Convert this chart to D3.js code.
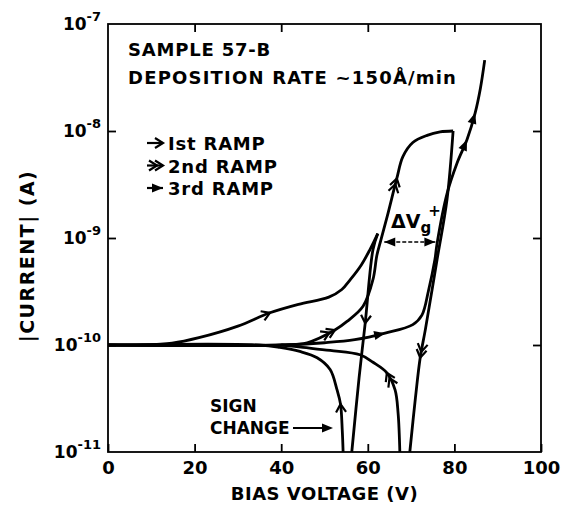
<!DOCTYPE html>
<html>
<head>
<meta charset="utf-8">
<script src="https://cdn.jsdelivr.net/npm/d3@7"></script>
<style>
  body { margin: 0; background: #fff; }
  text { font-family: "DejaVu Sans", sans-serif; font-weight: bold; fill: #000; }
</style>
</head>
<body>
<svg id="chart" width="563" height="505"></svg>
<script>
// axis ticks
const xTicks = [0, 20, 40, 60, 80, 100];
const yTicks = [1e-11, 1e-10, 1e-9, 1e-8, 1e-7];
const yExp = ["-11", "-10", "-9", "-8", "-7"];

// 1st ramp (single arrows): [bias V, |current| A]
const ramp1Up = [[0,1e-10],[8,1e-10],[14.8,1.04e-10],[21,1.17e-10],[30,1.5e-10],[37.4,2.0e-10],[44,2.4e-10],[51,2.8e-10],[54,3.3e-10],[56,4.1e-10],[58.5,5.6e-10],[60.5,7.8e-10],[62.3,1.1e-9]];
const ramp1Down = [[62.3,1.1e-9],[61.2,7.8e-10],[59.4,1.6e-10],[58,5e-11],[56.3,1e-11]];
const ramp1Back = [[54.3,1e-11],[54.1,1.6e-11],[53.7,2.8e-11],[52.9,3.8e-11],[51.3,5.9e-11],[48.3,7.6e-11],[44.3,8.7e-11],[39.7,9.5e-11],[35,1e-10],[0,1e-10]];

// 2nd ramp (double arrows)
const ramp2Up = [[0,1e-10],[40,1e-10],[46,1.05e-10],[52.4,1.38e-10],[55.2,1.66e-10],[58.9,2.3e-10],[61.2,4.1e-10],[62.1,6.9e-10],[63,9.5e-10],[64.5,1.6e-9],[66.7,3.6e-9],[68.1,5.75e-9],[70.4,7.8e-9],[73.7,9.1e-9],[76.7,9.8e-9],[79.7,1.0e-8]];
const ramp2Down = [[79.7,1.0e-8],[78.3,2.3e-9],[76,6.3e-10],[73.3,1.4e-10],[72.1,7.6e-11],[71,3.2e-11],[69.7,1e-11]];
const ramp2Back = [[67.4,1e-11],[67,2.3e-11],[66.3,3.8e-11],[64.4,5.5e-11],[61.2,6.9e-11],[58.2,8.1e-11],[51.3,8.9e-11],[45,9.5e-11],[40,1e-10]];

// 3rd ramp (filled arrows)
const ramp3Up = [[0,1e-10],[40,1e-10],[50,1.05e-10],[57,1.12e-10],[64,1.29e-10],[70.4,1.55e-10],[72.5,1.9e-10],[74,3.2e-10],[75.5,6.3e-10],[76,8.9e-10],[78.3,2.6e-9],[80.6,5e-9],[82.9,8.3e-9],[84.8,1.48e-8],[86,2.5e-8],[87,4.6e-8]];

// where the arrowheads sit: [curve, bias V, type]
const arrows = [
  [ramp1Up, 37.4, "single"], [ramp1Down, 59.4, "single"], [ramp1Back, 53.7, "single"],
  [ramp2Up, 52.4, "double"], [ramp2Up, 66.7, "double"], [ramp2Down, 72.1, "double"], [ramp2Back, 64.4, "double"],
  [ramp3Up, 64, "filled"], [ramp3Up, 82.9, "filled"], [ramp3Up, 84.8, "filled"]
];

const legend = [["single", "Ist RAMP"], ["double", "2nd RAMP"], ["filled", "3rd RAMP"]];

const svg = d3.select("#chart");
const pLeft = 108, pRight = 541, pTop = 24, pBottom = 452;

const x = d3.scaleLinear().domain([0, 100]).range([pLeft, pRight]);
const y = d3.scaleLog().domain([1e-11, 1e-7]).range([pBottom, pTop]);

// frame
svg.append("rect")
  .attr("x", pLeft).attr("y", pTop)
  .attr("width", pRight - pLeft).attr("height", pBottom - pTop)
  .attr("fill", "none").attr("stroke", "#000").attr("stroke-width", 1.8);

// x ticks, inward, bottom and top
svg.append("g").attr("transform", `translate(0,${pBottom})`)
  .call(d3.axisBottom(x).tickValues(xTicks).tickSize(-8).tickPadding(9))
  .call(g => g.select(".domain").remove())
  .call(g => g.selectAll("text").attr("font-size", 18).attr("font-family", null))
  .call(g => g.selectAll("line").attr("stroke-width", 1.8));
svg.append("g").attr("transform", `translate(0,${pTop})`)
  .call(d3.axisTop(x).tickValues(xTicks.slice(1, -1)).tickSize(-8).tickFormat(""))
  .call(g => g.select(".domain").remove())
  .call(g => g.selectAll("line").attr("stroke-width", 1.8));

// y ticks, inward, left and right
svg.append("g").attr("transform", `translate(${pLeft},0)`)
  .call(d3.axisLeft(y).tickValues(yTicks.slice(1, -1)).tickSize(-8).tickFormat(""))
  .call(g => g.select(".domain").remove())
  .call(g => g.selectAll("line").attr("stroke-width", 1.8));
svg.append("g").attr("transform", `translate(${pRight},0)`)
  .call(d3.axisRight(y).tickValues(yTicks.slice(1, -1)).tickSize(-8).tickFormat(""))
  .call(g => g.select(".domain").remove())
  .call(g => g.selectAll("line").attr("stroke-width", 1.8));

// y tick labels with exponent
yTicks.forEach((v, i) => {
  const t = svg.append("text")
    .attr("x", pLeft - 7).attr("y", y(v) + 6)
    .attr("text-anchor", "end").attr("font-size", 17);
  t.append("tspan").text("10");
  t.append("tspan").attr("dy", -9).attr("font-size", 13).text(yExp[i]);
});

// axis titles
svg.append("text")
  .attr("x", (pLeft + pRight) / 2).attr("y", 500)
  .attr("text-anchor", "middle").attr("font-size", 18).attr("letter-spacing", 0.5)
  .text("BIAS VOLTAGE (V)");
svg.append("text")
  .attr("transform", `translate(34,${(pTop + pBottom) / 2 + 18}) rotate(-90)`)
  .attr("text-anchor", "middle").attr("font-size", 19).attr("letter-spacing", 1.5)
  .text("|CURRENT| (A)");

// curves
const line = d3.line()
  .x(d => x(d[0]))
  .y(d => y(d[1]))
  .curve(d3.curveCatmullRom.alpha(0.5));

[ramp1Up, ramp1Down, ramp1Back, ramp2Up, ramp2Down, ramp2Back, ramp3Up].forEach(c => {
  svg.append("path")
    .datum(c)
    .attr("d", line)
    .attr("fill", "none")
    .attr("stroke", "#000")
    .attr("stroke-width", 2.8)
    .attr("stroke-linejoin", "round");
});

// arrowheads
function drawHead(px, py, angle, type) {
  const g = svg.append("g").attr("transform", `translate(${px},${py}) rotate(${angle})`);
  if (type === "filled") {
    g.append("path").attr("d", "M-11,-4.5L0,0L-11,4.5Z").attr("fill", "#000");
  } else {
    const offs = type === "double" ? [0, -6] : [0];
    offs.forEach(o => {
      g.append("path").attr("d", `M${o - 8},-5L${o},0L${o - 8},5`)
        .attr("fill", "none").attr("stroke", "#000").attr("stroke-width", 2.2);
    });
  }
}

arrows.forEach(([c, v, type]) => {
  for (let i = 0; i < c.length - 1; i++) {
    const a = c[i], b = c[i + 1];
    if ((v - a[0]) * (v - b[0]) <= 0 && a[0] !== b[0]) {
      const f = (v - a[0]) / (b[0] - a[0]);
      const ax = x(a[0]), ay = y(a[1]), bx = x(b[0]), by = y(b[1]);
      const px = ax + f * (bx - ax), py = ay + f * (by - ay);
      const ang = Math.atan2(by - ay, bx - ax) * 180 / Math.PI;
      drawHead(px, py, ang, type);
      break;
    }
  }
});

// notes
svg.append("text").attr("x", 128).attr("y", 56).attr("font-size", 18).attr("letter-spacing", 0.8).text("SAMPLE 57-B");
svg.append("text").attr("x", 128).attr("y", 84).attr("font-size", 18).attr("letter-spacing", 1.2).text("DEPOSITION RATE ~150Å/min");

legend.forEach(([type, label], i) => {
  const ly = 143 + i * 22.5;
  svg.append("line").attr("x1", 147).attr("x2", 163).attr("y1", ly).attr("y2", ly)
    .attr("stroke", "#000").attr("stroke-width", 2.2);
  drawHead(163, ly, 0, type);
  svg.append("text").attr("x", 168).attr("y", ly + 7).attr("font-size", 18).attr("letter-spacing", 0.8).text(label);
});

// delta Vg+ marker at 1e-9
const dvY = y(1e-9) + 4;
svg.append("line").attr("x1", x(63.8)).attr("x2", x(75.6)).attr("y1", dvY).attr("y2", dvY)
  .attr("stroke", "#000").attr("stroke-width", 1.4).attr("stroke-dasharray", "4,2");
drawHead(x(63.8), dvY, 180, "filled");
drawHead(x(75.6), dvY, 0, "filled");
const dv = svg.append("text").attr("x", 391).attr("y", 228).attr("font-size", 19);
dv.append("tspan").text("ΔV");
dv.append("tspan").attr("dy", 5).attr("font-size", 15).text("g");
dv.append("tspan").attr("dy", -17).attr("dx", -3).attr("font-size", 15).text("+");

// sign change note
svg.append("text").attr("x", 210).attr("y", 412).attr("font-size", 17).text("SIGN");
svg.append("text").attr("x", 210).attr("y", 434).attr("font-size", 17).text("CHANGE");
svg.append("line").attr("x1", 293).attr("x2", 322).attr("y1", 428).attr("y2", 428)
  .attr("stroke", "#000").attr("stroke-width", 2);
drawHead(333, 428, 0, "filled");
</script>
</body>
</html>
